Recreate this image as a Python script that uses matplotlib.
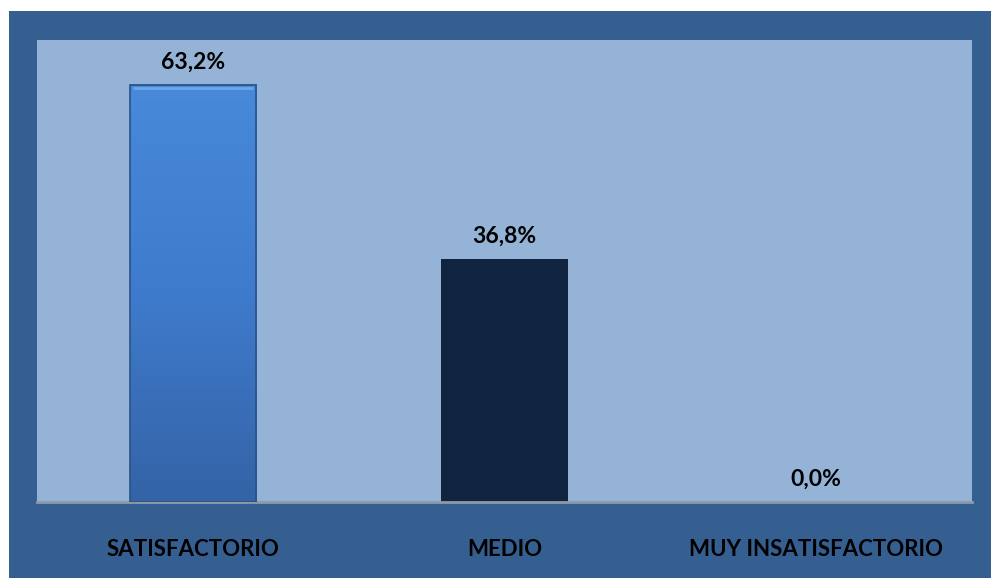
import numpy as np
import matplotlib.pyplot as plt
from matplotlib.patches import Rectangle
from matplotlib.colors import LinearSegmentedColormap

categorias = ['SATISFACTORIO', 'MEDIO', 'MUY INSATISFACTORIO']
valores = [63.2, 36.8, 0.0]
etiquetas = ['63,2%', '36,8%', '0,0%']

W, H = 991, 578
fig = plt.figure(figsize=(W / 100, H / 100), dpi=100, facecolor='white')
fig.patches.append(Rectangle((9 / W, 0), 1 - 9 / W, (H - 11) / H, transform=fig.transFigure,
                             facecolor='#365F91', edgecolor='none', zorder=-5))

ax = fig.add_axes([37 / W, (H - 502) / H, 935 / W, 462 / H])
ax.set_facecolor('#95B3D7')

x = np.arange(len(categorias))
ancho = 0.405
colores = ['#3F7CCB', '#10243F', '#95B3D7']
barras = ax.bar(x, valores, width=ancho, color=colores, zorder=2)

# degradado en la primera barra
b = barras[0]
grad = LinearSegmentedColormap.from_list('g', ['#3463A6', '#3F7BCC', '#4889DA'])
ax.imshow(np.linspace(0, 1, 256).reshape(-1, 1), cmap=grad, origin='lower', aspect='auto',
          extent=(b.get_x(), b.get_x() + b.get_width(), 0, b.get_height()), zorder=3)
b.set_facecolor('none')
b.set_edgecolor('#2A5288')
b.set_linewidth(1.2)
b.set_zorder(4)
ax.set_xlim(-0.5, 2.5)
ax.set_ylim(0, 70)
# borde superior brillante
ax.plot([b.get_x() + 0.01, b.get_x() + b.get_width() - 0.01], [b.get_height() - 0.5] * 2,
        color='#6FA8EA', lw=2, zorder=5, solid_capstyle='butt')

for xi, v, t in zip(x, valores, etiquetas):
    ax.annotate(t, (xi, v), xytext=(0, 9), textcoords='offset points', ha='center', va='bottom',
                fontsize=16.5, fontweight='bold', family='Lato', color='black')

ax.set_xticks(x)
ax.set_xticklabels(categorias, fontsize=16, fontweight='bold', family='Lato')
ax.tick_params(axis='x', length=0, pad=27)
ax.set_yticks([])
for s in ['top', 'right', 'left']:
    ax.spines[s].set_visible(False)
ax.spines['bottom'].set_color('#8E9AA8')
ax.spines['bottom'].set_linewidth(2)

fig.savefig('out.png', dpi=100)
